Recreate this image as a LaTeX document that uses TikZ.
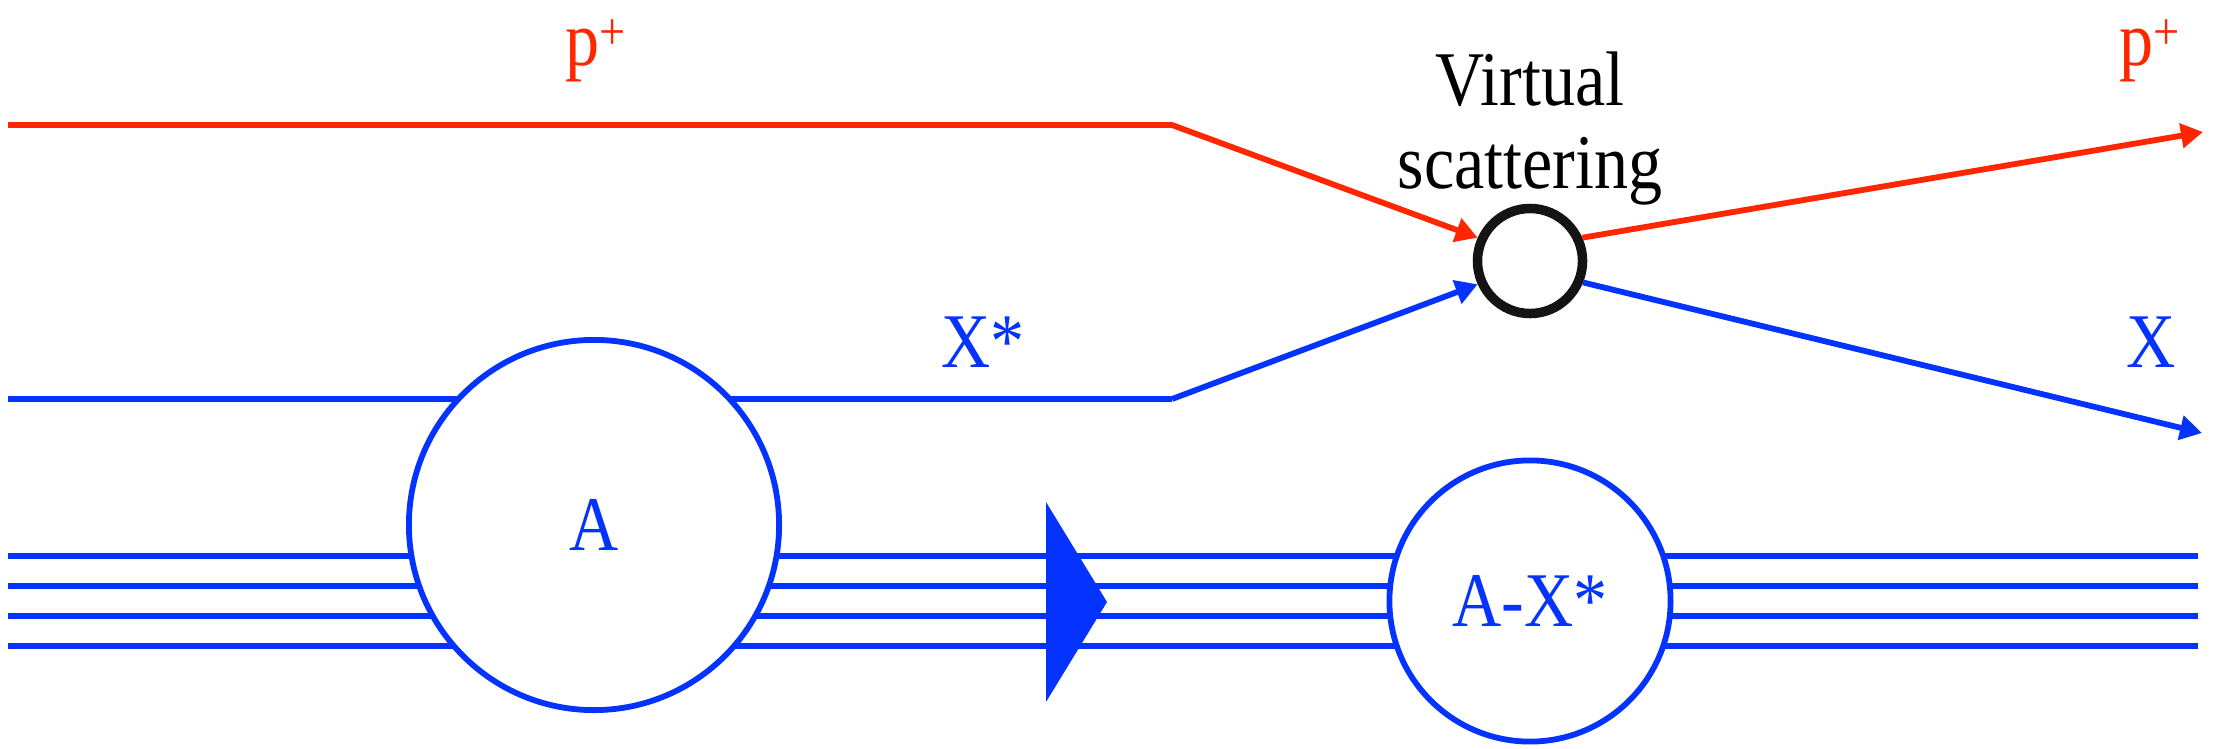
\documentclass[tikz,border=0pt]{standalone}
\usepackage{fontspec}
\setmainfont[FakeStretch=0.88]{Liberation Serif}
\usetikzlibrary{arrows.meta}
\definecolor{kred}{HTML}{FF2600}
\definecolor{kblue}{HTML}{0433FF}
\newcommand{\supplus}{\raisebox{4.5pt}{\fontsize{15pt}{15pt}\selectfont+}}
\begin{document}
\begin{tikzpicture}[x=0.01cm,y=-0.01cm,
  every node/.style={font=\fontsize{22pt}{23.5pt}\selectfont},
  ln/.style={line width=0.058cm},
  arr/.style={ln,-{Triangle[length=0.22cm,width=0.24cm]}},
  blob/.style={circle,draw=kblue,line width=0.058cm,fill=white,inner sep=0pt,text=kblue},
  lbl/.style={anchor=base west,inner sep=0pt}]
\useasboundingbox (0,0) rectangle (2224,748);
% nodes
\node[circle,draw=black!92,line width=0.095cm,minimum size=1.05cm,inner sep=0pt] (sc) at (1530,261) {};
\coordinate (r0) at (8,125);
\coordinate (rk) at (1172,125);
\coordinate (rend) at (2203,132);
\coordinate (b0) at (8,399);
\coordinate (bk) at (1172,399);
\coordinate (bend) at (2202,433);
% four bound lines
\foreach \y/\n in {556/1,586/2,616/3,646/4}{
  \coordinate (s\n) at (8,\y);
  \coordinate (e\n) at (2198,\y);
  \draw[ln,kblue] (s\n) -- (e\n);
}
% proton
\draw[arr,kred] (r0) -- (rk) -- (sc.156);
\draw[arr,kred] (sc.24) -- (rend);
% X
\draw[ln,kblue] (b0) -- (bk);
\draw[arr,kblue] (bk) -- (sc.204);
\draw[arr,kblue] (sc.-22) -- (bend);
% nuclei
\node[blob,minimum size=3.7cm] (A) at (594,525) {A};
\node[blob,minimum size=2.81cm] (AX) at (1530,601) {A-X*};
% big arrow
\fill[kblue] (1046,502) -- (1046,702) -- (1107,602) -- cycle;
% labels
\node[lbl,text=kred] (lp) at (565,65) {p\supplus};
\node[lbl,text=kred] (rp) at (2119,65) {p\supplus};
\node[lbl,text=kblue] (xs) at (941,367) {X*};
\node[lbl,text=kblue] (xr) at (2126,367) {X};
\node[anchor=base,align=center,inner sep=0pt] (vs) at (1530,188) {Virtual\\scattering};
\end{tikzpicture}
\end{document}
